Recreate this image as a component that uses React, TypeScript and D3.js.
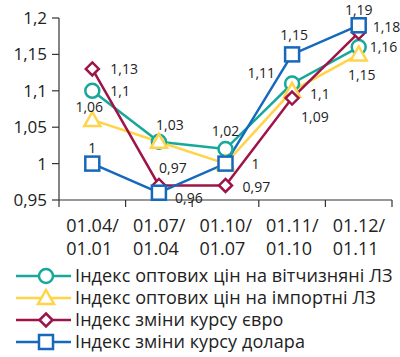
import React from "react";
import * as d3 from "d3";

const categoriesTop = ["01.04/", "01.07/", "01.10/", "01.11/", "01.12/"];
const categoriesBottom = ["01.01", "01.04", "01.07", "01.10", "01.11"];
const yTicks = [0.95, 1, 1.05, 1.1, 1.15, 1.2];

const domesticValues = [1.1, 1.03, 1.02, 1.11, 1.16];
const importValues = [1.06, 1.03, 1.0, 1.1, 1.15];
const euroValues = [1.13, 0.97, 0.97, 1.09, 1.18];
const dollarValues = [1.0, 0.96, 1.0, 1.15, 1.19];

const seriesNames = [
  "Індекс оптових цін на вітчизняні ЛЗ",
  "Індекс оптових цін на імпортні ЛЗ",
  "Індекс зміни курсу євро",
  "Індекс зміни курсу долара",
];

// label offsets: [dx, dy, anchor]; null = no label shown
type Off = [number, number, string] | null;
const domesticLabels: Off[] = [[18, 0, "start"], [11, -17, "middle"], [0, -18, "middle"], [-17, -10, "end"], [11, 0, "start"]];
const importLabels: Off[] = [[-3, -13, "middle"], null, null, [18, 3, "start"], [3, 21, "middle"]];
const euroLabels: Off[] = [[18, 0, "start"], [14, -17, "middle"], [17, 2, "start"], [9, 19, "start"], [14, -5, "start"]];
const dollarLabels: Off[] = [[0, -16, "middle"], [30, 5, "middle"], [26, 0, "start"], [2, -19, "middle"], [0, -15, "middle"]];

const fmt = (v: number) => {
  const s = String(Math.round(v * 100) / 100);
  return s.replace(".", ",");
};

export default function App() {
  const W = 400;
  const H = 357;
  const left = 59;
  const right = 392;
  const top = 18;
  const bottom = 200;

  const x = d3.scaleBand<number>().domain(d3.range(5)).range([left, right]).padding(0);
  const y = d3.scaleLinear().domain([0.95, 1.2]).range([bottom, top]);
  const cx = (i: number) => (x(i) as number) + x.bandwidth() / 2;

  const line = d3
    .line<number>()
    .x((_, i) => cx(i))
    .y((d) => y(d));

  const series = [
    { values: domesticValues, color: "#16A89A", marker: "circle", labels: domesticLabels },
    { values: importValues, color: "#FFD449", marker: "triangle", labels: importLabels },
    { values: euroValues, color: "#9E1448", marker: "diamond", labels: euroLabels },
    { values: dollarValues, color: "#1668BC", marker: "square", labels: dollarLabels },
  ];

  const marker = (type: string, px: number, py: number, color: string, key: string) => {
    const sw = 2.5;
    if (type === "circle")
      return <circle key={key} cx={px} cy={py} r={7} fill="#fff" stroke={color} strokeWidth={sw} />;
    if (type === "square")
      return <rect key={key} x={px - 7} y={py - 7} width={14} height={14} fill="#fff" stroke={color} strokeWidth={sw} />;
    if (type === "diamond") {
      const s = 6.5;
      return (
        <path key={key} d={`M${px},${py - s}L${px + s},${py}L${px},${py + s}L${px - s},${py}Z`} fill="#fff" stroke={color} strokeWidth={sw} />
      );
    }
    const s = 8;
    return (
      <path key={key} d={`M${px},${py - s}L${px + s},${py + s * 0.75}L${px - s},${py + s * 0.75}Z`} fill="#fff" stroke={color} strokeWidth={sw} strokeLinejoin="miter" />
    );
  };

  const font = "'Open Sans', 'Noto Sans', sans-serif";

  return (
    <svg width={W} height={H} style={{ position: "absolute", left: 0, top: 0, background: "#fff" }} fontFamily={font}>
      {/* axes */}
      <line x1={left} x2={left} y1={top} y2={bottom} stroke="#333" strokeWidth={1.2} />
      <line x1={left} x2={right} y1={bottom} y2={bottom} stroke="#333" strokeWidth={1.2} />
      {yTicks.map((t) => (
        <g key={t}>
          <line x1={left - 7} x2={left} y1={y(t)} y2={y(t)} stroke="#333" strokeWidth={1.2} />
          <text x={47} y={y(t)} dy="0.35em" textAnchor="end" fontSize={17} fill="#222">
            {fmt(t)}
          </text>
        </g>
      ))}
      {d3.range(6).map((i) => {
        const xx = i < 5 ? (x(i) as number) : right;
        return <line key={i} x1={xx} x2={xx} y1={bottom} y2={bottom + 7} stroke="#333" strokeWidth={1.2} />;
      })}
      {categoriesTop.map((c, i) => (
        <g key={c}>
          <text x={cx(i) - 26} y={232} fontSize={18} fill="#222">
            {c}
          </text>
          <text x={cx(i) - 26} y={255} fontSize={18} fill="#222">
            {categoriesBottom[i]}
          </text>
        </g>
      ))}
      {/* lines */}
      {series.map((s, si) => (
        <path key={si} d={line(s.values) as string} fill="none" stroke={s.color} strokeWidth={2.5} />
      ))}
      {series.map((s, si) => s.values.map((v, i) => marker(s.marker, cx(i), y(v), s.color, `${si}-${i}`)))}
      {/* labels */}
      {series.map((s, si) =>
        s.values.map((v, i) => {
          const o = s.labels[i];
          if (!o) return null;
          return (
            <text key={`l${si}-${i}`} x={cx(i) + o[0]} y={y(v) + o[1]} dy="0.35em" textAnchor={o[2] as any} fontSize={14} fill="#222">
              {fmt(v)}
            </text>
          );
        })
      )}
      {/* legend */}
      {series.map((s, si) => {
        const ly = 276 + si * 22;
        return (
          <g key={`lg${si}`}>
            <line x1={16} x2={71} y1={ly} y2={ly} stroke={s.color} strokeWidth={2.5} />
            {marker(s.marker, 46, ly, s.color, `lm${si}`)}
            <text x={75} y={ly} dy="0.35em" fontSize={18} letterSpacing={0.1} fill="#222">
              {seriesNames[si]}
            </text>
          </g>
        );
      })}
    </svg>
  );
}
